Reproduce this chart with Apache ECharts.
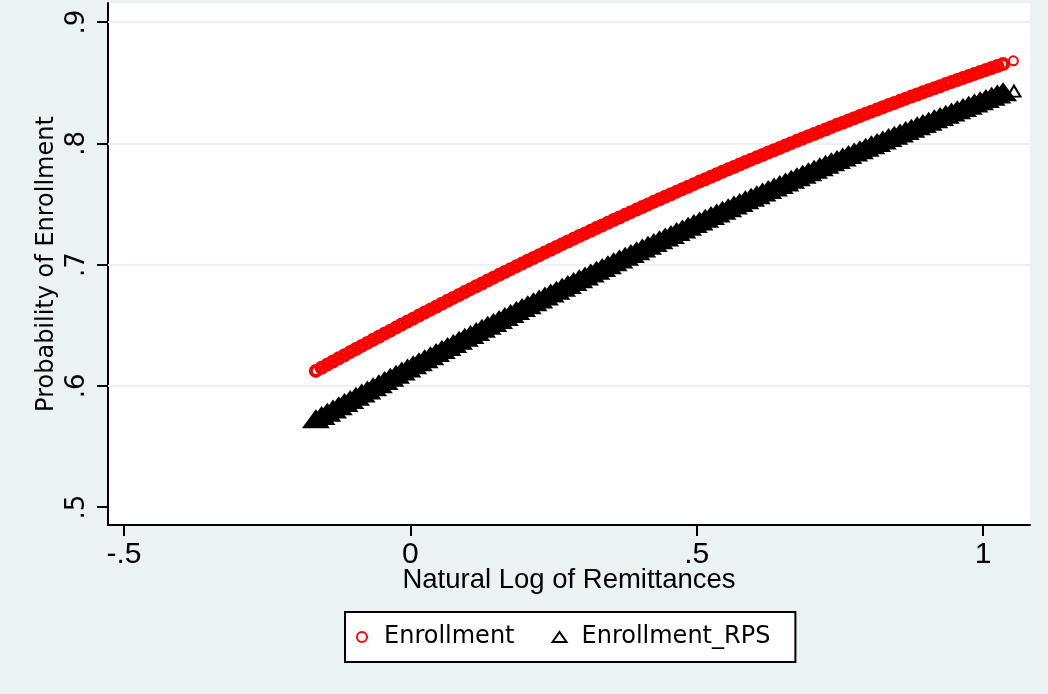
<!DOCTYPE html>
<html>
<head>
<meta charset="utf-8">
<script src="https://cdn.jsdelivr.net/npm/echarts@6/dist/echarts.min.js"></script>
<style>
html, body { margin: 0; padding: 0; background: #EAF2F3; }
#chart { width: 1048px; height: 694px; }
</style>
</head>
<body>
<div id="chart"></div>
<script>
// Natural log of remittances (shared by both predictions)
const remitLog = [
  -0.165, -0.155, -0.145, -0.135, -0.125, -0.115, -0.105, -0.095, -0.085, -0.075,
  -0.065, -0.055, -0.045, -0.035, -0.025, -0.015, -0.005, 0.005, 0.015, 0.025,
  0.035, 0.045, 0.055, 0.065, 0.075, 0.085, 0.095, 0.105, 0.115, 0.125,
  0.135, 0.145, 0.155, 0.165, 0.175, 0.185, 0.195, 0.205, 0.215, 0.225,
  0.235, 0.245, 0.255, 0.265, 0.275, 0.285, 0.295, 0.305, 0.315, 0.325,
  0.335, 0.345, 0.355, 0.365, 0.375, 0.385, 0.395, 0.405, 0.415, 0.425,
  0.435, 0.445, 0.455, 0.465, 0.475, 0.485, 0.495, 0.505, 0.515, 0.525,
  0.535, 0.545, 0.555, 0.565, 0.575, 0.585, 0.595, 0.605, 0.615, 0.625,
  0.635, 0.645, 0.655, 0.665, 0.675, 0.685, 0.695, 0.705, 0.715, 0.725,
  0.735, 0.745, 0.755, 0.765, 0.775, 0.785, 0.795, 0.805, 0.815, 0.825,
  0.835, 0.845, 0.855, 0.865, 0.875, 0.885, 0.895, 0.905, 0.915, 0.925,
  0.935, 0.945, 0.955, 0.965, 0.975, 0.985, 0.995, 1.005, 1.015, 1.025,
  1.035
];

// Predicted probability of enrollment
const enrollment = [
  0.6123, 0.6149, 0.6175, 0.6201, 0.6227, 0.6252, 0.6278, 0.6303, 0.6329, 0.6354,
  0.6380, 0.6405, 0.6430, 0.6455, 0.6480, 0.6505, 0.6530, 0.6554, 0.6579, 0.6604,
  0.6628, 0.6652, 0.6677, 0.6701, 0.6725, 0.6749, 0.6773, 0.6797, 0.6821, 0.6844,
  0.6868, 0.6892, 0.6915, 0.6938, 0.6962, 0.6985, 0.7008, 0.7031, 0.7054, 0.7077,
  0.7100, 0.7122, 0.7145, 0.7168, 0.7190, 0.7212, 0.7235, 0.7257, 0.7279, 0.7301,
  0.7323, 0.7345, 0.7367, 0.7388, 0.7410, 0.7432, 0.7453, 0.7474, 0.7496, 0.7517,
  0.7538, 0.7559, 0.7580, 0.7601, 0.7622, 0.7642, 0.7663, 0.7684, 0.7704, 0.7724,
  0.7745, 0.7765, 0.7785, 0.7805, 0.7825, 0.7845, 0.7865, 0.7884, 0.7904, 0.7924,
  0.7943, 0.7962, 0.7982, 0.8001, 0.8020, 0.8039, 0.8058, 0.8077, 0.8096, 0.8114,
  0.8133, 0.8152, 0.8170, 0.8188, 0.8207, 0.8225, 0.8243, 0.8261, 0.8279, 0.8297,
  0.8315, 0.8332, 0.8350, 0.8368, 0.8385, 0.8402, 0.8420, 0.8437, 0.8454, 0.8471,
  0.8488, 0.8505, 0.8522, 0.8538, 0.8555, 0.8572, 0.8588, 0.8604, 0.8621, 0.8637,
  0.8653
];

// Predicted probability of enrollment, RPS
const enrollmentRPS = [
  0.5704, 0.5731, 0.5757, 0.5784, 0.5810, 0.5837, 0.5863, 0.5889, 0.5915, 0.5941,
  0.5967, 0.5993, 0.6019, 0.6045, 0.6071, 0.6097, 0.6122, 0.6148, 0.6173, 0.6199,
  0.6224, 0.6249, 0.6275, 0.6300, 0.6325, 0.6350, 0.6375, 0.6399, 0.6424, 0.6449,
  0.6474, 0.6498, 0.6523, 0.6547, 0.6571, 0.6596, 0.6620, 0.6644, 0.6668, 0.6692,
  0.6716, 0.6740, 0.6764, 0.6787, 0.6811, 0.6835, 0.6858, 0.6881, 0.6905, 0.6928,
  0.6951, 0.6974, 0.6998, 0.7021, 0.7043, 0.7066, 0.7089, 0.7112, 0.7135, 0.7157,
  0.7180, 0.7202, 0.7224, 0.7247, 0.7269, 0.7291, 0.7313, 0.7335, 0.7357, 0.7379,
  0.7401, 0.7423, 0.7444, 0.7466, 0.7487, 0.7509, 0.7530, 0.7551, 0.7573, 0.7594,
  0.7615, 0.7636, 0.7657, 0.7678, 0.7699, 0.7719, 0.7740, 0.7761, 0.7781, 0.7802,
  0.7822, 0.7842, 0.7862, 0.7883, 0.7903, 0.7923, 0.7943, 0.7963, 0.7982, 0.8002,
  0.8022, 0.8041, 0.8061, 0.8080, 0.8100, 0.8119, 0.8138, 0.8158, 0.8177, 0.8196,
  0.8215, 0.8234, 0.8252, 0.8271, 0.8290, 0.8308, 0.8327, 0.8345, 0.8364, 0.8382,
  0.8400
];

// Highest-remittance observation, drawn on its own
const enrollmentTop = [1.053, 0.868];
const enrollmentRPSTop = [1.054, 0.843];

const xTicks = [-0.5, 0, 0.5, 1];
const yTicks = [0.5, 0.6, 0.7, 0.8, 0.9];
const yGridValues = [0.6, 0.7, 0.8, 0.9];

const BG = '#EAF2F3';
const SANS = '"Liberation Sans", Arial, sans-serif';
const WIDE = '"DejaVu Sans", Verdana, sans-serif';

// hollow marker outlines used for the legend keys
const RING = 'path://M0,5A5,5,0,1,1,10,5A5,5,0,1,1,0,5Z';
const TRI = 'path://M0,10L7,0L14,10Z';

// Stata-style tick text: drop the leading zero (.5, -.5)
const stataNum = v => String(v).replace(/^(-?)0\./, '$1.');

const redBand = remitLog.map((x, i) => [x, enrollment[i]]);
redBand.push({ value: enrollmentTop, symbolSize: 9, itemStyle: { borderWidth: 2 } });

const blackBand = remitLog.map((x, i) => [x, enrollmentRPS[i]]);
blackBand.push({
  value: enrollmentRPSTop, symbolSize: [13, 11], symbolOffset: [0, 0],
  itemStyle: { color: 'rgba(0,0,0,0)', borderColor: '#000', borderWidth: 2 }
});

const chart = echarts.init(document.getElementById('chart'), null, { renderer: 'canvas' });

chart.setOption({
  backgroundColor: BG,
  animation: false,
  grid: {
    left: 108, right: 18, top: 3, bottom: 169,
    show: true, backgroundColor: '#ffffff', borderWidth: 0
  },
  xAxis: {
    type: 'value',
    min: -0.528, max: 1.082,
    name: 'Natural Log of Remittances',
    nameLocation: 'middle',
    nameGap: 41,
    nameMoveOverlap: false,
    nameTextStyle: { fontFamily: SANS, fontSize: 27.5, color: '#000' },
    axisLine: { show: true, onZero: false, lineStyle: { color: '#000', width: 2 } },
    axisTick: { show: true, customValues: xTicks, length: 11, lineStyle: { color: '#000', width: 2 } },
    axisLabel: {
      customValues: xTicks, formatter: stataNum, margin: 15,
      fontFamily: SANS, fontSize: 30, color: '#000'
    },
    splitLine: { show: false }
  },
  yAxis: {
    type: 'value',
    min: 0.4852, max: 0.9157,
    name: 'Probability of Enrollment',
    nameLocation: 'middle',
    nameGap: 49,
    nameMoveOverlap: false,
    nameTextStyle: { fontFamily: WIDE, fontSize: 24, color: '#000' },
    axisLine: { show: true, onZero: false, lineStyle: { color: '#000', width: 2 } },
    axisTick: { show: true, customValues: yTicks, length: 11, lineStyle: { color: '#000', width: 2 } },
    axisLabel: {
      customValues: yTicks, formatter: stataNum, rotate: 90, margin: 18,
      fontFamily: WIDE, fontSize: 26, color: '#000'
    },
    splitLine: { show: false }
  },
  legend: {
    left: 345, top: 612,
    orient: 'horizontal',
    padding: [13, 25, 13, 11],
    backgroundColor: '#ffffff', borderColor: '#000', borderWidth: 2,
    itemWidth: 14, itemHeight: 10, itemGap: 37,
    symbolKeepAspect: true,
    textStyle: { fontFamily: WIDE, fontSize: 24, color: '#000', padding: [0, 0, 0, 10] },
    selectedMode: false,
    data: [
      { name: 'Enrollment', icon: RING,
        itemStyle: { color: 'rgba(0,0,0,0)', borderColor: '#ff0000', borderWidth: 2 } },
      { name: 'Enrollment_RPS', icon: TRI,
        itemStyle: { color: 'rgba(0,0,0,0)', borderColor: '#000000', borderWidth: 2 } }
    ]
  },
  series: [
    {
      // horizontal gridlines, kept under the markers
      name: 'grid', type: 'scatter', data: [], silent: true, z: 1,
      markLine: {
        silent: true, symbol: 'none', z: 1, animation: false,
        label: { show: false },
        lineStyle: { color: BG, width: 2, type: 'solid' },
        emphasis: { disabled: true },
        data: yGridValues.map(v => ({ yAxis: v }))
      }
    },
    {
      name: 'Enrollment', type: 'scatter', z: 3, silent: true,
      symbol: 'circle', symbolSize: 10,
      itemStyle: { color: 'rgba(0,0,0,0)', borderColor: '#ff0000', borderWidth: 4, opacity: 1 },
      emphasis: { disabled: true },
      data: redBand
    },
    {
      // densely overlapping triangles merge into one solid band
      name: 'Enrollment_RPS', type: 'scatter', z: 3, silent: true,
      symbol: 'triangle', symbolSize: [28, 19], symbolOffset: [0, -3],
      itemStyle: { color: '#000000', borderWidth: 0, opacity: 1 },
      emphasis: { disabled: true },
      data: blackBand
    }
  ]
});
</script>
</body>
</html>
